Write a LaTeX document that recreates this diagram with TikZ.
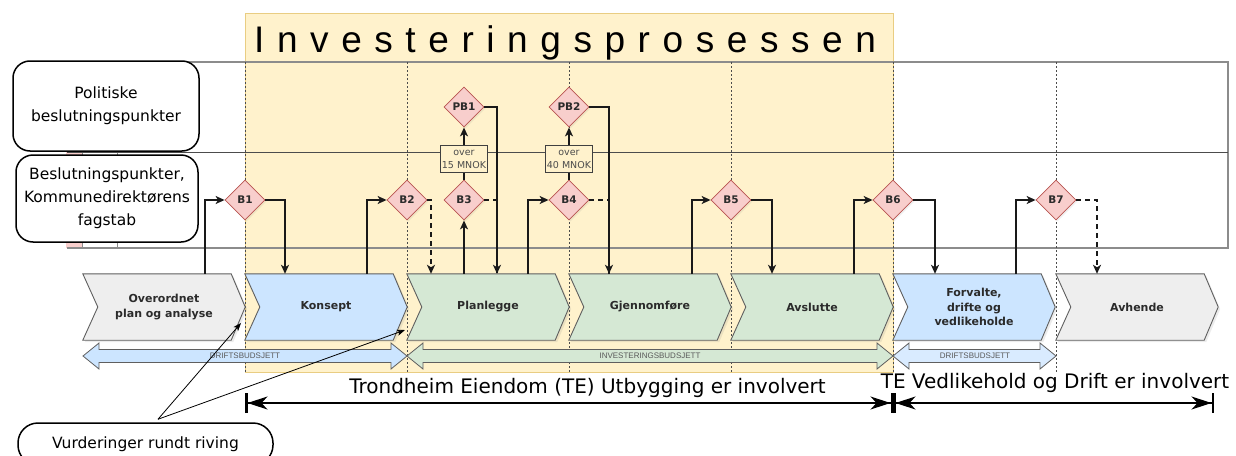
\documentclass[tikz,border=0pt]{standalone}
\usepackage{fontspec}
\setmainfont{DejaVu Sans}
\newfontfamily\titlefont[LetterSpace=34]{Liberation Sans}
\newfontfamily\budgetfont{Liberation Sans}
\usetikzlibrary{arrows.meta,shapes.geometric,shadows,calc}
\pgfdeclarelayer{back}
\pgfdeclarelayer{shapes}
\pgfsetlayers{back,shapes,main}

\definecolor{yel}{HTML}{FFF2CC}
\definecolor{yeledge}{HTML}{E9CD82}
\definecolor{grayfill}{HTML}{EEEEEE}
\definecolor{bluefill}{HTML}{CCE5FF}
\definecolor{greenfill}{HTML}{D5E8D4}
\definecolor{pinkfill}{HTML}{F8CECC}
\definecolor{pinkedge}{HTML}{B85450}
\definecolor{outline}{HTML}{5F5F5F}
\definecolor{textdark}{HTML}{2B2B2B}
\definecolor{gridline}{HTML}{8C8C8C}

% outline of a process chevron built on the anchors of its node
\newcommand\chevpath[1]{(#1.north west) -- ([xshift=-14pt]#1.north east) -- (#1.east)
  -- ([xshift=-14pt]#1.south east) -- (#1.south west) -- ([xshift=15pt]#1.west) -- cycle}

% double-headed budget arrow between two x positions
\newcommand\budgetarrow[3]{%
  \path[draw=outline,fill=#3,line width=0.8pt,line join=miter]
    (#1,356) -- (#1+16,343) -- (#1+16,349.5) -- (#2-16,349.5) -- (#2-16,343) -- (#2,356)
    -- (#2-16,369) -- (#2-16,362.5) -- (#1+16,362.5) -- (#1+16,369) -- cycle;}

\begin{document}
\begin{tikzpicture}[x=1pt,y=-1pt,
  lanebox/.style={draw=black,line width=1.5pt,rounded corners=17pt,fill=white,
    align=center,inner sep=0pt,font=\fontsize{15.5}{23}\selectfont},
  chev/.style={minimum width=162pt,minimum height=66pt,inner sep=0pt,align=center,
    text=textdark,font=\bfseries\fontsize{11}{14.5}\selectfont},
  chevshape/.style={draw=outline,line width=0.9pt,line join=miter,
    drop shadow={opacity=0.15,shadow xshift=2pt,shadow yshift=-2pt}},
  dec/.style={diamond,aspect=1,minimum width=40pt,minimum height=40pt,inner sep=0pt,
    fill=pinkfill,draw=pinkedge,line width=0.8pt,text=textdark,
    font=\bfseries\fontsize{10.5}{11}\selectfont,
    drop shadow={opacity=0.12,shadow xshift=1.5pt,shadow yshift=-1.5pt}},
  conn/.style={draw=black!90,line width=1.5pt,-{Stealth[length=9pt,width=8pt,inset=2.5pt]}},
  dashline/.style={draw=black!90,line width=1.5pt,dash pattern=on 5pt off 4pt},
  cond/.style={draw=black!75,fill=yel,line width=0.6pt,minimum width=47pt,minimum height=27pt,
    inner sep=0pt,align=center,text=black!70,font=\fontsize{9.5}{13.5}\selectfont},
  budgetlbl/.style={font=\budgetfont\fontsize{8}{9}\selectfont,text=black!65,inner sep=0pt},
  dotgrid/.style={draw=black!70,line width=0.6pt,dash pattern=on 2pt off 2pt},
  dim/.style={line width=1.2pt,
    {Bar[width=20pt,line width=2.5pt]Stealth[length=20pt,width=13pt,inset=6pt]}-{Stealth[length=20pt,width=13pt,inset=6pt]Bar[width=20pt,line width=2.5pt]}},
  thinarrow/.style={line width=0.8pt,-{Stealth[length=8pt,width=6pt,inset=2pt]}},
  bigtext/.style={font=\fontsize{20}{24}\selectfont,inner sep=0pt}
]
\useasboundingbox (0,0) rectangle (1236,455);
\clip (0,0) rectangle (1236,455);

% ---------- background: investment phase, swimlane table, phase gates ----------
\begin{pgfonlayer}{back}
  \path[fill=yel,draw=yeledge,line width=0.8pt] (245,13) rectangle (893,372);
  \fill[pinkfill] (66,152) rectangle (82,248);
  \draw[gridline,line width=0.8pt] (82,152) -- (82,248) (117,152) -- (117,248);
  \draw[gridline,line width=1.6pt] (67,62) -- (1228,62) -- (1228,248) -- (67,248);
  \draw[black!70,line width=1pt] (67,152) -- (1228,152);
  \foreach \x in {245,407,569,731,893,1056}
    \draw[dotgrid] (\x,62) -- (\x,372);
\end{pgfonlayer}

\node[anchor=base west,inner sep=0pt,font=\titlefont\fontsize{37}{40}\selectfont] (title)
  at (254,52) {Investeringsprosessen};

% ---------- lane headers ----------
\node[lanebox,minimum width=186pt,minimum height=90pt] (pol) at (106,106)
  {Politiske\\beslutningspunkter};
\node[lanebox,minimum width=182pt,minimum height=87pt] (adm) at (107,198.5)
  {Beslutningspunkter,\\Kommunedirektørens\\fagstab};

% ---------- process chevrons ----------
\node[chev] (overordnet)  at (164,307)  {Overordnet\\plan og analyse};
\node[chev] (konsept)     at (326,307)  {Konsept};
\node[chev] (planlegge)   at (488,307)  {Planlegge};
\node[chev] (gjennomfore) at (650,307)  {Gjennomføre};
\node[chev] (avslutte)    at (812,307)  {Avslutte};
\node[chev] (forvalte)    at (974,307)  {Forvalte,\\drifte og\\vedlikeholde};
\node[chev] (avhende)     at (1137,307) {Avhende};

\begin{pgfonlayer}{shapes}
  \foreach \n/\c in {overordnet/grayfill,konsept/bluefill,planlegge/greenfill,
      gjennomfore/greenfill,avslutte/greenfill,forvalte/bluefill,avhende/grayfill}
    \path[chevshape,fill=\c] \chevpath{\n};
\end{pgfonlayer}

% ---------- budgets ----------
\budgetarrow{83}{407}{bluefill}
\budgetarrow{407}{893}{greenfill}
\budgetarrow{893}{1056}{bluefill!75!white}
\node[budgetlbl] (budA) at (245,356) {DRIFTSBUDSJETT};
\node[budgetlbl] (budB) at (650,356) {INVESTERINGSBUDSJETT};
\node[budgetlbl] (budC) at (975,356) {DRIFTSBUDSJETT};

% ---------- decision points ----------
\node[dec] (B1)  at (245,200) {B1};
\node[dec] (B2)  at (407,200) {B2};
\node[dec] (B3)  at (464,200) {B3};
\node[dec] (B4)  at (569,200) {B4};
\node[dec] (B5)  at (731,200) {B5};
\node[dec] (B6)  at (893,200) {B6};
\node[dec] (B7)  at (1056,200) {B7};
\node[dec] (PB1) at (464,107) {PB1};
\node[dec] (PB2) at (569,107) {PB2};

% ---------- flow between phases and decision points ----------
\draw[conn] ([xshift=41pt]overordnet.north) |- (B1.west);
\draw[conn] (B1.east) -| ([xshift=-41pt]konsept.north);
\draw[conn] ([xshift=41pt]konsept.north) |- (B2.west);
\draw[conn,dash pattern=on 5pt off 4pt] (B2.east) -| ([xshift=-57pt]planlegge.north);
\draw[conn] (B3.south |- planlegge.north) -- (B3.south);
\draw[conn] (B3.north) -- node[cond,pos=0.39] (lim1) {over\\15 MNOK} (PB1.south);
\draw[dashline] (B3.east) -| ([xshift=9pt]planlegge.north);
\draw[conn] (PB1.east) -| ([xshift=9pt]planlegge.north);
\draw[conn] ([xshift=40pt]planlegge.north) |- (B4.west);
\draw[conn] (B4.north) -- node[cond,pos=0.39] (lim2) {over\\40 MNOK} (PB2.south);
\draw[dashline] (B4.east) -| ([xshift=-41pt]gjennomfore.north);
\draw[conn] (PB2.east) -| ([xshift=-41pt]gjennomfore.north);
\draw[conn] ([xshift=42pt]gjennomfore.north) |- (B5.west);
\draw[conn] (B5.east) -| ([xshift=-40pt]avslutte.north);
\draw[conn] ([xshift=42pt]avslutte.north) |- (B6.west);
\draw[conn] (B6.east) -| ([xshift=-39pt]forvalte.north);
\draw[conn] ([xshift=42pt]forvalte.north) |- (B7.west);
\draw[conn,dash pattern=on 5pt off 4pt] (B7.east) -| ([xshift=-40pt]avhende.north);

% ---------- involvement spans ----------
\node[bigtext,anchor=base] (tub) at (587.5,393) {Trondheim Eiendom (TE) Utbygging er involvert};
\node[bigtext,anchor=base] (tvd) at (1055,388) {TE Vedlikehold og Drift er involvert};
\coordinate (spanA) at (245,403);
\coordinate (spanB) at (893,403);
\coordinate (spanC) at (1214,403);
\draw[dim] (spanA) -- (spanB);
\draw[dim] (spanB) -- (spanC);

% ---------- demolition note ----------
\node[lanebox,rounded corners=20pt,minimum width=255pt,minimum height=42pt] (vurd)
  at (145.5,444) {Vurderinger rundt riving};
\coordinate (rivA) at (241,323);
\coordinate (rivB) at (405,330);
\draw[thinarrow] ([xshift=12.5pt,yshift=3pt]vurd.north) -- (rivA);
\draw[thinarrow] ([xshift=12.5pt,yshift=3pt]vurd.north) -- (rivB);
\end{tikzpicture}
\end{document}
